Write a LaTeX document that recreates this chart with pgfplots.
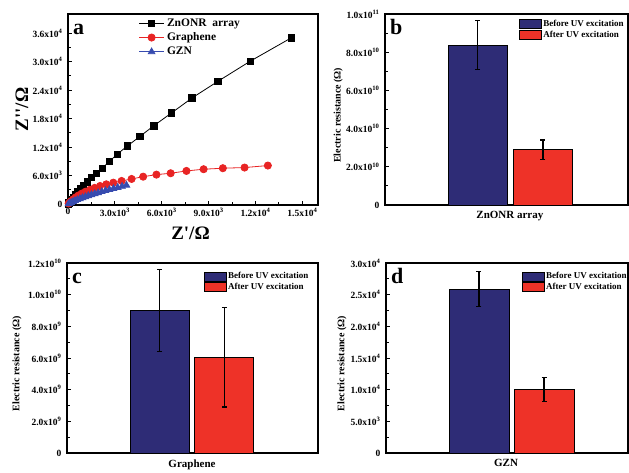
\documentclass[border=0pt]{standalone}
\usepackage{fontspec}
\setmainfont{Liberation Serif}
\usepackage{pgfplots}
\pgfplotsset{compat=1.18}
\definecolor{barNavy}{RGB}{46,44,118}
\definecolor{barRed}{RGB}{238,50,40}
\definecolor{markRed}{RGB}{232,36,36}
\definecolor{markBlue}{RGB}{55,75,175}

\tikzset{
  plabel/.style={anchor=base west, font=\fontsize{22}{22}\selectfont\bfseries, inner sep=0pt, xshift=5pt, yshift=-20.5pt},
}
\pgfplotsset{
  panel/.style={
    scale only axis,
    axis line style={line width=1.5pt},
    tick style={black, line width=0.9pt},
    tick align=inside,
    major tick length=4pt,
    minor tick length=2.5pt,
    tick pos=left,
    scaled ticks=false,
    ticklabel style={font=\fontsize{9.5}{10}\selectfont\bfseries},
    yticklabel style={xshift=-2pt},
  },
  barpanel/.style={
    panel,
    xmin=0, xmax=1, ymin=0,
    minor y tick num=1,
    xtick style={draw=none},
    xticklabel style={font=\fontsize{11}{12}\selectfont\bfseries, yshift=-3pt},
    ylabel={Electric resistance (Ω)},
    ylabel style={font=\fontsize{10}{11}\selectfont\bfseries, anchor=center},
    legend style={draw=none, fill=none, anchor=north west,
      font=\fontsize{9}{10}\selectfont\bfseries,
      nodes={inner sep=1.3pt}, row sep=0pt},
    legend cell align=left,
  },
  barstyle/.style={
    ybar, bar shift=0pt, draw=black, line width=0.8pt,
    error bars/.cd, y dir=both, y explicit,
    error bar style={line width=1.2pt, black},
    error mark options={rotate=90, mark size=2.5pt, line width=1.2pt, black},
    /pgfplots/.cd,
    legend image code/.code={\draw[##1, line width=0.6pt] (0pt,-4.5pt) rectangle (22pt,4.5pt);},
  },
}

\begin{document}
\begin{tikzpicture}
\path[use as bounding box] (0,0) rectangle (629pt,473pt);

% ---- panel a: Nyquist plot
\begin{axis}[panel,
  at={(68pt,268pt)}, anchor=south west, width=250pt, height=191pt,
  xmin=0, xmax=16000, ymin=-200, ymax=40000,
  xtick={0,3000,6000,9000,12000,15000},
  xticklabels={0, 3.0x10\textsuperscript{3}, 6.0x10\textsuperscript{3}, 9.0x10\textsuperscript{3}, 1.2x10\textsuperscript{4}, 1.5x10\textsuperscript{4}},
  ytick={0,6000,12000,18000,24000,30000,36000},
  yticklabels={0, 6.0x10\textsuperscript{3}, 1.2x10\textsuperscript{4}, 1.8x10\textsuperscript{4}, 2.4x10\textsuperscript{4}, 3.0x10\textsuperscript{4}, 3.6x10\textsuperscript{4}},
  minor x tick num=1, minor y tick num=1,
  xlabel={Z\textquotesingle/Ω}, ylabel={Z\textquotesingle\textquotesingle/Ω},
  label style={font=\fontsize{19}{20}\selectfont\bfseries},
  xlabel style={at={(axis description cs:0.49,-0.147)}, anchor=center},
  ylabel style={at={(axis description cs:-0.184,0.5)}, anchor=center},
  legend style={at={(0.27,1)}, anchor=north west, draw=none, fill=none,
    font=\fontsize{11.5}{12}\selectfont\bfseries, nodes={inner sep=2.5pt}},
  legend cell align=left,
  legend image code/.code={\draw[mark repeat=2,mark phase=2,#1] plot coordinates {(0pt,0pt)(12.5pt,0pt)(25pt,0pt)};},
]
\addplot[black, line width=0.8pt, mark=square*, mark size=3.2pt] coordinates {
 (20,60) (70,250) (140,550) (230,950) (340,1400) (470,1950) (620,2550)
 (800,3200) (1000,3900) (1230,4700) (1510,5560) (1830,6480) (2190,7540)
 (2640,8940) (3150,10490) (3810,12250) (4600,14220) (5490,16480)
 (6620,19160) (7940,22330) (9600,25840) (11660,30060) (14300,35000)
};
\addlegendentry{ZnONR\ \ array}
\addplot[markRed, line width=0.8pt, mark=*, mark size=3.6pt] coordinates {
 (40,120) (110,350) (210,650) (340,1000) (490,1400) (670,1800) (880,2200)
 (1120,2600) (1400,3000) (1700,3400) (2050,3800) (2450,4150) (2900,4500)
 (3430,4860) (4070,5280) (4810,5760) (5660,6190) (6570,6480) (7580,6970)
 (8680,7330) (9910,7540) (11300,7680) (12790,8100)
};
\addlegendentry{Graphene}
\addplot[markBlue, line width=0.8pt, mark=triangle*, mark size=3.8pt] coordinates {
 (30,30) (100,150) (200,330) (320,520) (450,720) (600,920) (760,1120)
 (930,1330) (1110,1540) (1300,1750) (1500,1960) (1710,2170) (1930,2380)
 (2160,2600) (2400,2820) (2650,3040) (2910,3260) (3180,3490) (3460,3720)
 (3740,3960)
};
\addlegendentry{GZN}
\node[plabel] at (rel axis cs:0,1) {a};
\end{axis}

% ---- panel b: ZnONR array
\begin{axis}[barpanel,
  at={(385pt,268pt)}, anchor=south west, width=243pt, height=191pt,
  ymax=1e11,
  ytick={0,2e10,4e10,6e10,8e10,1e11},
  yticklabels={0, 2.0x10\textsuperscript{10}, 4.0x10\textsuperscript{10}, 6.0x10\textsuperscript{10}, 8.0x10\textsuperscript{10}, 1.0x10\textsuperscript{11}},
  xtick={0.514}, xticklabels={ZnONR array},
  ylabel style={at={(axis description cs:-0.193,0.47)}},
  legend style={at={(0.54,0.985)}},
]
\addplot[barstyle, fill=barNavy, bar width=0.243] coordinates {(0.381,8.38e10) +- (0,1.29e10)};
\addlegendentry{Before UV excitation}
\addplot[barstyle, fill=barRed, bar width=0.243] coordinates {(0.650,2.9e10) +- (0,0.5e10)};
\addlegendentry{After UV excitation}
\node[plabel] at (rel axis cs:0,1) {b};
\end{axis}

% ---- panel c: Graphene
\begin{axis}[barpanel,
  at={(67pt,20pt)}, anchor=south west, width=251pt, height=190pt,
  ymax=1.2e10,
  ytick={0,2e9,4e9,6e9,8e9,1e10,1.2e10},
  yticklabels={0, 2.0x10\textsuperscript{9}, 4.0x10\textsuperscript{9}, 6.0x10\textsuperscript{9}, 8.0x10\textsuperscript{9}, 1.0x10\textsuperscript{10}, 1.2x10\textsuperscript{10}},
  xtick={0.498}, xticklabels={Graphene},
  ylabel style={at={(axis description cs:-0.199,0.47)}},
  legend style={at={(0.534,0.968)}},
]
\addplot[barstyle, fill=barNavy, bar width=0.235] coordinates {(0.369,9.0e9) +- (0,2.6e9)};
\addlegendentry{Before UV excitation}
\addplot[barstyle, fill=barRed, bar width=0.235] coordinates {(0.627,6.05e9) +- (0,3.15e9)};
\addlegendentry{After UV excitation}
\node[plabel] at (rel axis cs:0,1) {c};
\end{axis}

% ---- panel d: GZN
\begin{axis}[barpanel,
  at={(386pt,20pt)}, anchor=south west, width=242pt, height=190pt,
  ymax=3e4,
  ytick={0,5000,10000,15000,20000,25000,30000},
  yticklabels={0, 5.0x10\textsuperscript{3}, 1.0x10\textsuperscript{4}, 1.5x10\textsuperscript{4}, 2.0x10\textsuperscript{4}, 2.5x10\textsuperscript{4}, 3.0x10\textsuperscript{4}},
  xtick={0.496}, xticklabels={GZN},
  ylabel style={at={(axis description cs:-0.182,0.47)}},
  legend style={at={(0.55,0.968)}},
]
\addplot[barstyle, fill=barNavy, bar width=0.248] coordinates {(0.384,25850) +- (0,2770)};
\addlegendentry{Before UV excitation}
\addplot[barstyle, fill=barRed, bar width=0.248] coordinates {(0.653,10030) +- (0,1900)};
\addlegendentry{After UV excitation}
\node[plabel] at (rel axis cs:0,1) {d};
\end{axis}
\end{tikzpicture}
\end{document}
